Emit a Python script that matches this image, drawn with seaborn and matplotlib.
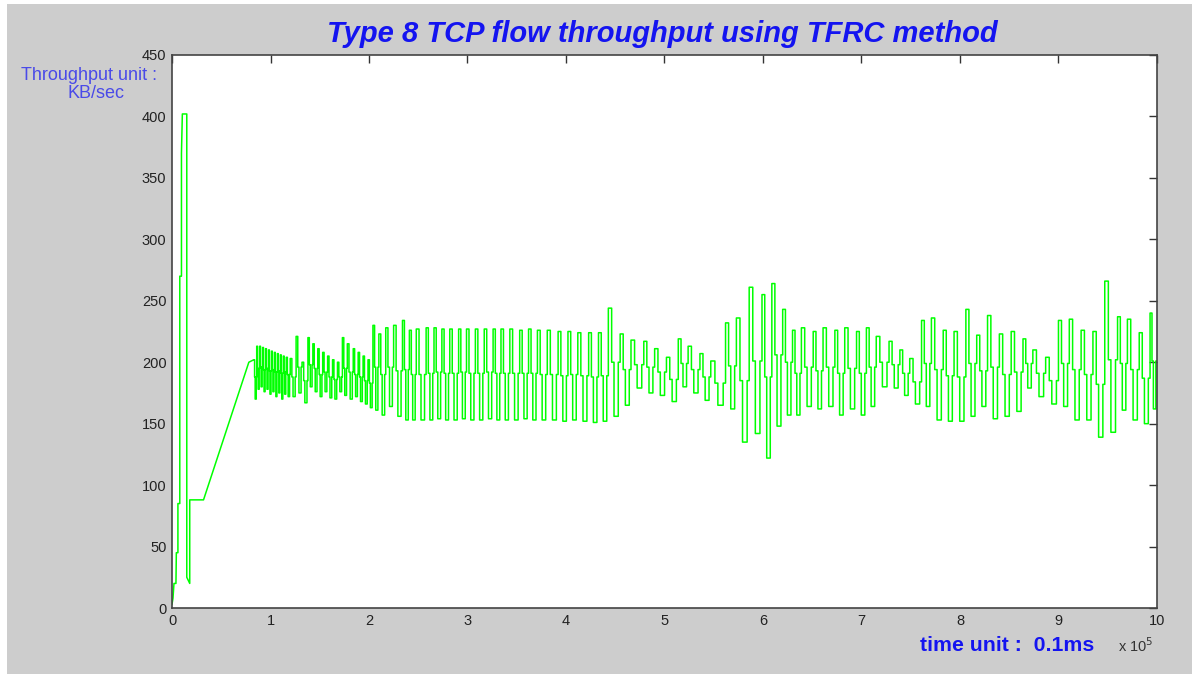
import matplotlib
matplotlib.use("Agg")
import matplotlib.pyplot as plt
import seaborn as sns
import pandas as pd
from matplotlib.patches import Rectangle

# ---------------- data (time in units of 1e5 x 0.1 ms, throughput KB/s) ----------------
# start-up phase: spike, trough, plateau and linear ramp (vertices)
start_t = [0.00, 0.01, 0.02, 0.04, 0.044, 0.06, 0.06, 0.079, 0.079, 0.096, 0.096, 0.105,
           0.150, 0.150, 0.180, 0.180, 0.320, 0.780, 0.830]
start_v = [3, 8, 20, 20, 45, 45, 85, 85, 270, 270, 370, 402,
           402, 25, 20, 88, 88, 200, 202]

# oscillation cycles: rise time, peak level, shoulder level, trough level
cycle_t = [0.83, 0.86, 0.89, 0.92, 0.95, 0.98, 1.01, 1.04, 1.07, 1.10, 1.13, 1.16,
           1.20, 1.26, 1.32, 1.38, 1.43, 1.48, 1.53, 1.58, 1.63, 1.68, 1.73, 1.78,
           1.84, 1.89, 1.94, 1.99,
           2.04, 2.10, 2.17, 2.25, 2.34, 2.41, 2.48,
           2.58, 2.66, 2.74, 2.82, 2.91, 2.99, 3.08, 3.17, 3.26, 3.34, 3.43, 3.53,
           3.62, 3.71, 3.81, 3.92, 4.02, 4.12, 4.23, 4.33, 4.43,
           4.55, 4.66, 4.79, 4.90, 5.02, 5.14, 5.24, 5.36, 5.47, 5.62, 5.73, 5.86,
           5.99, 6.09, 6.20, 6.30,
           6.39, 6.51, 6.61, 6.73, 6.83, 6.95, 7.05, 7.15, 7.28, 7.39, 7.49, 7.61,
           7.71, 7.83, 7.94, 8.06,
           8.17, 8.28, 8.40, 8.52, 8.64, 8.74, 8.87, 9.00, 9.11, 9.23, 9.35, 9.47,
           9.60, 9.70, 9.82, 9.93]
cycle_hi = [202, 213, 213, 212, 211, 210, 209, 208, 207, 206, 205, 204,
            203, 221, 200, 220, 215, 211, 208, 205, 202, 200, 220, 215,
            211, 208, 205, 202,
            230, 223, 228, 230, 234, 226, 227,
            228, 228, 227, 227, 227, 227, 227, 227, 227, 227, 227, 226,
            227, 226, 226, 225, 225, 224, 224, 224, 244,
            223, 218, 217, 211, 204, 219, 213, 207, 201, 232, 236, 261,
            255, 264, 243, 226,
            228, 225, 228, 226, 228, 225, 228, 221, 217, 210, 203, 234,
            236, 226, 225, 243,
            222, 238, 223, 225, 219, 210, 204, 234, 235, 226, 225, 266,
            237, 235, 224, 240]
cycle_mid = [188, 195, 196, 194, 195, 193, 194, 192, 193, 191, 192, 190,
             188, 196, 185, 198, 195, 190, 192, 188, 186, 188, 195, 192,
             190, 188, 185, 183,
             196, 190, 196, 193, 194, 190, 190,
             191, 192, 191, 191, 192, 191, 191, 192, 191, 191, 191, 191,
             191, 190, 190, 189, 190, 189, 188, 189, 200,
             194, 198, 196, 192, 186, 199, 194, 188, 183, 197, 185, 201,
             188, 206, 200, 191,
             196, 193, 196, 191, 195, 191, 196, 200, 198, 191, 184, 199,
             194, 189, 188, 199,
             193, 196, 190, 192, 199, 191, 185, 199, 194, 190, 182, 202,
             199, 194, 187, 201]
cycle_lo = [170, 178, 180, 176, 178, 174, 176, 172, 175, 170, 174, 172,
            172, 175, 167, 180, 176, 172, 176, 171, 170, 176, 173, 170,
            172, 168, 166, 163,
            161, 157, 164, 156, 153, 153, 153,
            153, 154, 153, 153, 154, 153, 153, 154, 153, 153, 153, 154,
            153, 153, 153, 152, 153, 152, 151, 152, 156,
            165, 179, 175, 173, 168, 180, 175, 169, 165, 162, 135, 142,
            122, 148, 157, 157,
            164, 162, 164, 157, 162, 157, 164, 180, 179, 173, 166, 164,
            153, 152, 152, 156,
            164, 154, 156, 160, 179, 172, 166, 164, 153, 153, 139, 143,
            161, 153, 150, 162]
end_t = 10.0

x_ticks = [0, 1, 2, 3, 4, 5, 6, 7, 8, 9, 10]
y_ticks = [0, 50, 100, 150, 200, 250, 300, 350, 400, 450]

# ---------------- build the trace (vertices of the stepped signal) ----------------
shape = [(0.0, "hi"), (0.28, "mid"), (0.48, "lo"), (0.84, "mid")]
xs = list(start_t)
ys = list(start_v)
prev = ys[-1]
n = len(cycle_t)
for k in range(n):
    s = cycle_t[k]
    e = cycle_t[k + 1] if k + 1 < n else end_t
    p = e - s
    lv = {"hi": cycle_hi[k], "mid": cycle_mid[k], "lo": cycle_lo[k]}
    for frac, key in shape:
        x = s + frac * p
        xs += [x, x]
        ys += [prev, lv[key]]
        prev = lv[key]
xs.append(end_t)
ys.append(prev)
df = pd.DataFrame({"t": xs, "v": ys})

# ---------------- figure ----------------
sns.set_theme(style="white")
plt.rcParams["font.family"] = ["Liberation Sans", "DejaVu Sans"]

fig = plt.figure(figsize=(11.92, 6.77), dpi=100, facecolor="white")
fig.patches.append(Rectangle((0.006, 0.004), 0.994, 0.990, transform=fig.transFigure,
                             facecolor="#cdcdcd", edgecolor="none", zorder=-10))
ax = fig.add_axes([0.1443, 0.1019, 0.8263, 0.8169])
ax.set_facecolor("white")

sns.lineplot(data=df, x="t", y="v", sort=False, estimator=None, ax=ax,
             color="#00ff00", linewidth=1.1)

ax.set_xlim(0, 10)
ax.set_ylim(0, 450)
ax.set_xticks(x_ticks)
ax.set_yticks(y_ticks)
ax.set_xticklabels([str(v) for v in x_ticks])
ax.set_yticklabels([str(v) for v in y_ticks])
ax.set_xlabel("")
ax.set_ylabel("")
ax.tick_params(direction="in", top=True, right=True, length=6, width=1,
               color="#333333", labelcolor="#222222", labelsize=10.5, pad=4)
for sp in ax.spines.values():
    sp.set_color("#444444")
    sp.set_linewidth(1.2)

fig.text(0.5555, 0.950, "Type 8 TCP flow throughput using TFRC method",
         ha="center", va="center", fontsize=21, fontweight="bold",
         fontstyle="italic", color="#1414f0")
fig.text(0.0745, 0.889, "Throughput unit :", ha="center", va="center",
         fontsize=13, color="#4a4ae8")
fig.text(0.0805, 0.862, "KB/sec", ha="center", va="center",
         fontsize=13, color="#4a4ae8")
fig.text(0.772, 0.047, "time unit :  0.1ms", ha="left", va="center",
         fontsize=15.3, fontweight="bold", color="#1414f0")
fig.text(0.938, 0.047, "x 10$^{5}$", ha="left", va="center",
         fontsize=10.5, color="#333333")

fig.savefig("out.png", dpi=100, facecolor=fig.get_facecolor())
